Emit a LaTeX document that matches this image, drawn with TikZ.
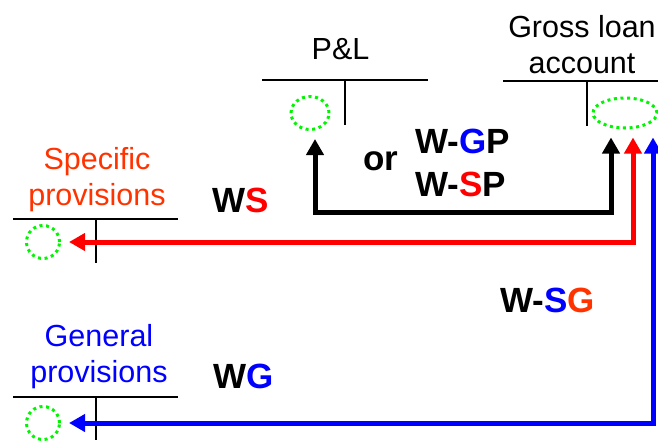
\documentclass[tikz,border=0pt]{standalone}
\usepackage{fontspec}
\setmainfont{Liberation Sans}
\usetikzlibrary{arrows.meta,shapes.geometric}
\definecolor{accgreen}{RGB}{0,245,0}
\definecolor{spred}{RGB}{255,51,0}
\definecolor{wred}{RGB}{255,0,0}
\definecolor{gblue}{RGB}{0,0,255}
\begin{document}
\begin{tikzpicture}[x=1pt,y=-1pt,
  title/.style={font=\fontsize{30.5}{36}\selectfont, align=center, anchor=base, inner sep=0},
  tag/.style={font=\fontsize{35}{40}\selectfont\bfseries, anchor=base west, inner sep=0},
  tline/.style={line width=2.5pt},
  slot/.style={draw=accgreen, ellipse, line width=3pt, dash pattern=on 3pt off 3.6pt, inner sep=0},
  flow/.style={line width=5pt, {Triangle[length=16pt,width=17pt]}-{Triangle[length=16pt,width=17pt]}},
]
\useasboundingbox (0,0) rectangle (658,440);

% account titles (base anchor sits on the last line)
\node[title] (pl) at (340.5,59) {P\&L};
\node[title] (gl) at (582,73) {Gross loan\\account};
\node[title, text=spred] (sp) at (97,205) {Specific\\provisions};
\node[title, text=gblue] (gp) at (99,382) {General\\provisions};

% T-accounts
\draw[tline] (262,80) -- (428,80) (345,80) -- (345,125);
\draw[tline] (503,81) -- (658,81) (587,81) -- (587,126);
\draw[tline] (13,219) -- (178,219) (96,219) -- (96,263);
\draw[tline] (13,397) -- (178,397) (96,397) -- (96,440);

% entry slots
\node[slot, minimum width=38pt, minimum height=33pt] (plc) at (310,113) {};
\node[slot, minimum width=64pt, minimum height=30pt] (glc) at (625,113) {};
\node[slot, minimum width=33pt, minimum height=33pt] (spc) at (43,242) {};
\node[slot, minimum width=33pt, minimum height=33pt] (gpc) at (43,423) {};

% postings
\coordinate (laneK1) at (315,212);
\coordinate (laneK2) at (611,212);
\coordinate (laneR) at (633,242);
\coordinate (laneB) at (653,423);
\draw[flow] ([yshift=-8pt]plc.south -| laneK1) -- (laneK1) -- (laneK2) -- ([yshift=-8pt]glc.south -| laneK2);
\draw[flow, wred] ([yshift=-8pt]glc.south -| laneR) -- (laneR) -- ([xshift=8pt]spc.east);
\draw[flow, gblue] ([yshift=-8pt]glc.south -| laneB) -- (laneB) -- ([xshift=8pt]gpc.east);

% posting labels
\node[tag] (ws) at (212,212) {W\textcolor{wred}{S}};
\node[tag] (wg) at (213,388) {W\textcolor{gblue}{G}};
\node[tag] (or) at (363,170) {or};
\node[tag] (wgp) at (415,153) {W-\textcolor{gblue}{G}P};
\node[tag] (wsp) at (415,196) {W-\textcolor{wred}{S}P};
\node[tag] (wsg) at (500,312) {W-\textcolor{gblue}{S}\textcolor{spred}{G}};
\end{tikzpicture}
\end{document}
